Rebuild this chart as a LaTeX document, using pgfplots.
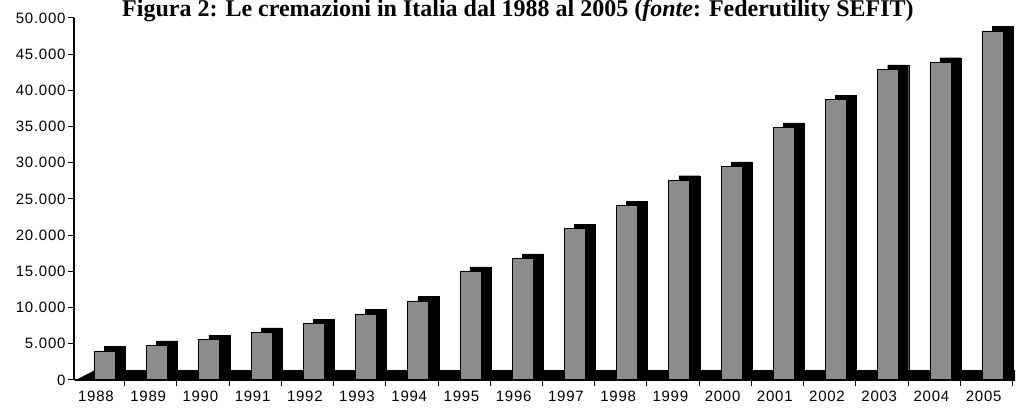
\documentclass[border=0pt]{standalone}
\usepackage{fontspec}
\setmainfont{Liberation Serif}
\newfontfamily\tickfont[LetterSpace=5]{Liberation Sans}
\usepackage{pgfplots}
\pgfplotsset{compat=1.18}
\usepackage{pgfplotstable}

\pgfplotstableread{
x year v
0 1988 4000
1 1989 4800
2 1990 5600
3 1991 6600
4 1992 7800
5 1993 9100
6 1994 10900
7 1995 15000
8 1996 16800
9 1997 20900
10 1998 24100
11 1999 27600
12 2000 29500
13 2001 34900
14 2002 38700
15 2003 42900
16 2004 43900
17 2005 48200
}\data

\begin{document}
\begin{tikzpicture}
\begin{axis}[
  scale only axis, width=941pt, height=362pt,
  xmin=-0.42, xmax=17.6, ymin=0, ymax=50000,
  axis lines*=left,
  clip=false,
  tick align=outside,
  major tick length=6pt,
  ytick={0,5000,...,50000},
  scaled y ticks=false,
  /pgf/number format/1000 sep={.},
  /pgf/number format/assume math mode=true,
  xtick={0,...,17},
  xticklabels={1988,1989,1990,1991,1992,1993,1994,1995,1996,1997,1998,1999,2000,2001,2002,2003,2004,2005},
  xtick style={draw=none},
  extra x ticks={0.55,1.55,...,17.55},
  extra x tick labels={},
  extra x tick style={xtick style={draw=black}},
  tick label style={font=\tickfont\fontsize{15}{17}\selectfont},
  yticklabel style={xshift=1pt},
  xticklabel style={yshift=-2pt},
  axis line style={line width=1.2pt},
  tick style={line width=0.9pt, black},
]
\addplot[ybar, bar width=21pt, bar shift=19pt, fill=black, draw=black]
  table[x=x, y expr=\thisrow{v}+600] {\data};
\addplot[fill=black, draw=none] coordinates {(-0.42,-150) (-0.02,1350) (17.6,1350) (17.6,-150)} -- cycle;
\addplot[ybar, bar width=21pt, bar shift=9pt, fill={rgb,255:red,140;green,140;blue,140}, draw=black, line width=0.8pt]
  table[x=x, y=v] {\data};
\node[anchor=base west, font=\fontsize{24}{28}\selectfont\bfseries, inner sep=0pt]
  at ([yshift=1pt]rel axis cs:0.051,1)
  {Figura 2: Le cremazioni in Italia dal 1988 al 2005 (\textit{fonte}: Federutility SEFIT)};
\path ([xshift=-74pt,yshift=-28pt]rel axis cs:0,0) rectangle ([xshift=2pt]rel axis cs:1,1);
\end{axis}
\end{tikzpicture}
\end{document}
